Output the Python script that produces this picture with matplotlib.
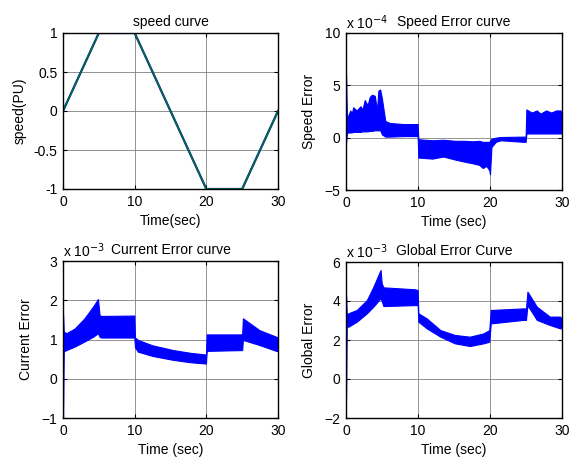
import matplotlib
matplotlib.use('Agg')
import matplotlib.pyplot as plt

plt.rcParams['font.family'] = ['Liberation Sans', 'DejaVu Sans']
plt.rcParams['font.size'] = 10

# speed curve (PU)
t_sp = [0, 5, 10, 20, 25, 30]
v_sp = [0, 1, 1, -1, -1, 0]

# speed error envelope (x 1e-4)
t_se = [0, 0.12, 0.3, 0.6, 0.8, 1, 1.5, 2, 2.3, 2.6, 3.0, 3.3, 3.6, 4.0, 4.3, 4.5, 4.75, 5.0,
        5.45, 6.1, 8, 9.95,
        10.05, 12, 13.5, 15.2, 16.5, 17.6, 18.5, 19.0, 19.5, 19.9, 20.0, 20.2, 20.8, 21.5,
        24.7, 24.95,
        25.05, 25.8, 26.5, 27, 27.8, 28.5, 29.2, 29.8, 30]
se_hi = [6, 2.0, 2.1, 2.6, 2.3, 2.9, 2.6, 3.0, 2.7, 3.6, 3.1, 3.9, 4.1, 4.0, 2.6, 4.5, 4.6, 3.7,
         1.6, 1.4, 1.3, 1.3,
         -0.15, -0.25, -0.2, -0.3, -0.3, -0.35, -0.3, -0.4, -0.4, -0.4, -0.3, -0.1, 0.0, 0.06,
         0.1, 0.1,
         2.7, 2.4, 2.6, 2.3, 2.6, 2.4, 2.6, 2.6, 2.5]
se_lo = [-0.5, 0.4, 0.5, 0.5, 0.5, 0.55, 0.55, 0.55, 0.6, 0.6, 0.6, 0.65, 0.65, 0.7, 0.7, 0.7, 0.7, 0.3,
         0.1, 0.1, 0.15, 0.15,
         -1.9, -2.0, -1.8, -2.1, -2.3, -2.45, -2.6, -2.9, -2.7, -3.1, -3.5, -0.9, -0.4, -0.25,
         -0.4, -0.4,
         0.4, 0.4, 0.4, 0.4, 0.4, 0.4, 0.4, 0.4, 0.4]

# current error envelope (x 1e-3)
t_ce = [0, 0.1, 0.47, 1.63, 3.0, 4.2, 4.88, 5.1, 5.35, 9.95, 10.05, 10.45, 12.5,
        15.4, 17.8, 19.8, 19.95, 20.05, 24.9, 25.0, 25.1, 25.8, 27.4, 29.75, 30]
ce_hi = [1.65, 1.2, 1.16, 1.28, 1.54, 1.84, 2.03, 1.62, 1.6, 1.61, 1.05, 0.99, 0.85,
         0.73, 0.66, 0.62, 0.62, 1.13, 1.13, 1.13, 1.54, 1.45, 1.24, 1.07, 1.05]
ce_lo = [-1.0, 0.7, 0.73, 0.82, 0.95, 1.07, 1.16, 1.07, 1.05, 1.05, 0.8, 0.69, 0.58,
         0.48, 0.42, 0.39, 0.39, 0.71, 0.73, 0.73, 0.99, 0.95, 0.86, 0.71, 0.7]

# global error envelope (x 1e-3)
t_ge = [0, 0.1, 0.33, 1.5, 2.9, 3.8, 4.8, 4.96, 5.2, 9.6, 9.95, 10.05, 11.2, 13.1,
        15.1, 17.2, 19.1, 19.9, 20.1, 24.6, 25.0, 25.2, 26.5, 28.3, 29.7, 30]
ge_hi = [4.3, 3.3, 3.37, 3.54, 4.05, 4.73, 5.59, 4.9, 4.7, 4.6, 4.56, 3.37, 3.11, 2.51,
         2.26, 2.17, 2.34, 2.51, 3.54, 3.62, 3.62, 4.48, 3.71, 3.2, 3.2, 3.1]
ge_lo = [-1.0, 2.7, 2.68, 2.94, 3.37, 3.71, 4.14, 4.0, 3.74, 3.79, 3.79, 2.94, 2.6, 2.17,
         1.83, 1.69, 1.83, 1.91, 2.85, 3.03, 3.03, 3.79, 3.03, 2.77, 2.6, 2.6]

fig = plt.figure(figsize=(5.69, 4.59), dpi=100)
W, H = 569.0, 459.0

def mkax(x0, x1, y0, y1):
    # pixel box -> figure fraction
    return fig.add_axes([x0 / W, 1 - y1 / H, (x1 - x0) / W, (y1 - y0) / H])

def style(ax, ylim, yticks):
    ax.set_xlim(0, 30)
    ax.set_ylim(*ylim)
    ax.set_xticks([0, 10, 20, 30])
    ax.set_yticks(yticks)
    ax.grid(True, color='0.5', lw=0.6, ls='-')
    ax.set_axisbelow(True)
    ax.tick_params(direction='in', top=True, right=True, length=3, width=0.8, pad=4)
    for s in ax.spines.values():
        s.set_linewidth(1.0)

ax1 = mkax(63, 278, 33, 189)
ax1.plot(t_sp, v_sp, color='#0000ff', lw=1.6)
ax1.plot(t_sp, v_sp, color='#008000', lw=1.0)
style(ax1, (-1, 1), [-1, -0.5, 0, 0.5, 1])
ax1.set_yticklabels(['-1', '-0.5', '0', '0.5', '1'])
ax1.set_title('speed curve', fontsize=10, pad=5)
ax1.set_xlabel('Time(sec)', labelpad=4)
ax1.set_ylabel('speed(PU)', labelpad=5)

ax2 = mkax(346, 562, 33, 190)
ax2.fill_between(t_se, se_lo, se_hi, color='#0000ff', lw=0.8)
style(ax2, (-5, 10), [-5, 0, 5, 10])
ax2.set_title('Speed Error curve', fontsize=10, pad=5)
ax2.text(0, 1.025, r'x 10$^{-4}$', transform=ax2.transAxes, fontsize=10)
ax2.set_xlabel('Time (sec)', labelpad=4)
ax2.set_ylabel('Speed Error', labelpad=6)

ax3 = mkax(63, 278, 261, 418)
ax3.fill_between(t_ce, ce_lo, ce_hi, color='#0000ff', lw=0.8)
style(ax3, (-1, 3), [-1, 0, 1, 2, 3])
ax3.set_title('Current Error curve', fontsize=10, pad=5)
ax3.text(0, 1.025, r'x 10$^{-3}$', transform=ax3.transAxes, fontsize=10)
ax3.set_xlabel('Time (sec)', labelpad=4)
ax3.set_ylabel('Current Error', labelpad=6)

ax4 = mkax(346, 562, 262, 418)
ax4.fill_between(t_ge, ge_lo, ge_hi, color='#0000ff', lw=0.8)
style(ax4, (-2, 6), [-2, 0, 2, 4, 6])
ax4.set_title('Global Error Curve', fontsize=10, pad=5)
ax4.text(0, 1.025, r'x 10$^{-3}$', transform=ax4.transAxes, fontsize=10)
ax4.set_xlabel('Time (sec)', labelpad=4)
ax4.set_ylabel('Global Error', labelpad=6)

fig.savefig('out.png', dpi=100)
